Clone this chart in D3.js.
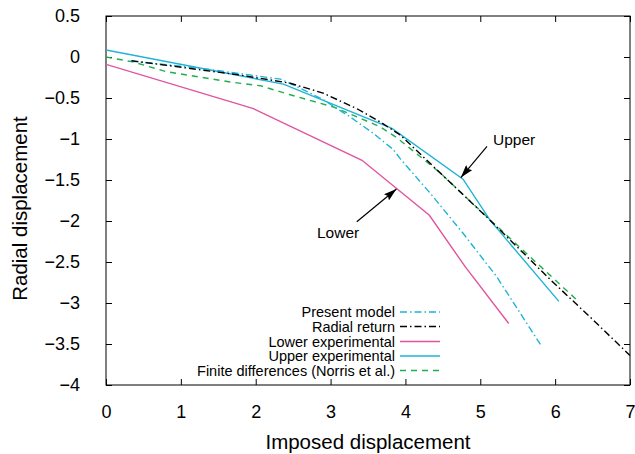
<!DOCTYPE html>
<html>
<head>
<meta charset="utf-8">
<script src="https://cdn.jsdelivr.net/npm/d3@7"></script>
<style>
  html, body { margin: 0; padding: 0; background: #fff; }
  svg { display: block; font-family: "Liberation Sans", Arial, Helvetica, sans-serif; }
</style>
</head>
<body>
<svg id="chart" width="635" height="454"></svg>
<script>
// ---------- data ----------
const xTicks = [0, 1, 2, 3, 4, 5, 6, 7];
const yTicks = [0.5, 0, -0.5, -1, -1.5, -2, -2.5, -3, -3.5, -4];

const presentModel = [
  [0.33, -0.05], [1.2, -0.13], [2.33, -0.27], [2.55, -0.36], [2.90, -0.52],
  [3.26, -0.73], [3.57, -0.93], [3.84, -1.13], [3.93, -1.24], [4.33, -1.66],
  [4.77, -2.15], [5.22, -2.68], [5.82, -3.53]
];
const radialReturn = [
  [0.34, -0.045], [1.79, -0.22], [2.46, -0.32], [2.90, -0.44], [3.35, -0.63],
  [3.66, -0.79], [3.93, -0.95], [4.46, -1.41], [5.13, -1.99], [5.93, -2.71],
  [6.50, -3.20], [7.00, -3.64]
];
const lowerExperimental = [
  [0, -0.09], [1.97, -0.63], [3.42, -1.26], [4.32, -1.93], [4.80, -2.56], [5.38, -3.25]
];
const upperExperimental = [
  [0, 0.085], [2.37, -0.33], [3.82, -0.87], [4.77, -1.49], [5.13, -1.99], [6.05, -2.98]
];
const finiteDifferences = [
  [0, 0.0], [0.36, -0.06], [0.81, -0.18], [1.70, -0.31], [2.06, -0.35], [2.46, -0.46],
  [3.04, -0.61], [3.66, -0.85], [3.88, -0.98], [4.46, -1.41], [5.17, -2.02],
  [5.93, -2.66], [6.31, -2.98]
];

const seriesNames = ["Present model", "Radial return", "Lower experimental",
                     "Upper experimental", "Finite differences (Norris et al.)"];
const seriesData = [presentModel, radialReturn, lowerExperimental, upperExperimental, finiteDifferences];
const seriesColors = ["#1fb3d6", "#000000", "#e0559f", "#1fb3d6", "#1fae4e"];
const seriesDash = ["7,3,1.5,3", "7,3,1.5,3", null, null, "6,5"];

const annotations = [
  { text: "Upper", tx: 493, ty: 145, from: [5.09, -1.09], to: [4.74, -1.47] },
  { text: "Lower", tx: 317, ty: 238, from: [3.35, -2.01], to: [3.88, -1.61] }
];

// ---------- layout ----------
const svg = d3.select("#chart");
const x = d3.scaleLinear().domain([0, 7]).range([106, 630]);
const y = d3.scaleLinear().domain([-4, 0.5]).range([385, 16]);

const tickFmt = d3.format("~g");

// frame
svg.append("rect")
  .attr("x", x(0)).attr("y", y(0.5))
  .attr("width", x(7) - x(0)).attr("height", y(-4) - y(0.5))
  .attr("fill", "none").attr("stroke", "#000").attr("stroke-width", 1);

function styleAxis(g, fontSize) {
  g.select(".domain").remove();
  g.selectAll(".tick line").attr("stroke", "#000").attr("stroke-width", 1);
  g.selectAll(".tick text").attr("fill", "#000").style("font-size", fontSize + "px")
    .style("font-family", '"Liberation Sans", Arial, Helvetica, sans-serif');
}

// bottom axis
svg.append("g").attr("transform", `translate(0,${y(-4)})`)
  .call(d3.axisBottom(x).tickValues(xTicks).tickFormat(tickFmt).tickSizeInner(-6).tickSizeOuter(0).tickPadding(20))
  .call(g => styleAxis(g, 18));
// top mirror ticks
svg.append("g").attr("transform", `translate(0,${y(0.5)})`)
  .call(d3.axisTop(x).tickValues(xTicks).tickFormat("").tickSizeInner(-6).tickSizeOuter(0))
  .call(g => styleAxis(g, 18));
// left axis
svg.append("g").attr("transform", `translate(${x(0)},0)`)
  .call(d3.axisLeft(y).tickValues(yTicks).tickFormat(tickFmt).tickSizeInner(-6).tickSizeOuter(0).tickPadding(26))
  .call(g => styleAxis(g, 18));
// right mirror ticks
svg.append("g").attr("transform", `translate(${x(7)},0)`)
  .call(d3.axisRight(y).tickValues(yTicks).tickFormat("").tickSizeInner(-6).tickSizeOuter(0))
  .call(g => styleAxis(g, 18));

// axis titles
svg.append("text")
  .attr("x", (x(0) + x(7)) / 2).attr("y", 449)
  .attr("text-anchor", "middle").style("font-size", "20.5px").attr("fill", "#000")
  .text("Imposed displacement");
svg.append("text")
  .attr("transform", `translate(27,${(y(0.5) + y(-4)) / 2 + 8}) rotate(-90)`)
  .attr("text-anchor", "middle").style("font-size", "20.5px").attr("fill", "#000")
  .text("Radial displacement");

// series lines
const line = d3.line().x(d => x(d[0])).y(d => y(d[1]));
svg.append("clipPath").attr("id", "plotclip").append("rect")
  .attr("x", x(0)).attr("y", y(0.5)).attr("width", x(7) - x(0)).attr("height", y(-4) - y(0.5));

const drawOrder = [4, 2, 3, 0, 1];
drawOrder.forEach(i => {
  svg.append("path")
    .datum(seriesData[i])
    .attr("d", line)
    .attr("fill", "none")
    .attr("stroke", seriesColors[i])
    .attr("stroke-width", 1.4)
    .attr("stroke-dasharray", seriesDash[i])
    .attr("clip-path", "url(#plotclip)");
});

// legend
const legendRows = [312, 326.5, 341.5, 356, 370.5];
seriesNames.forEach((name, i) => {
  svg.append("text")
    .attr("x", 395).attr("y", legendRows[i] + 5)
    .attr("text-anchor", "end").style("font-size", "14.5px").attr("fill", "#000")
    .text(name);
  svg.append("line")
    .attr("x1", 400).attr("x2", 440)
    .attr("y1", legendRows[i]).attr("y2", legendRows[i])
    .attr("stroke", seriesColors[i]).attr("stroke-width", 1.4)
    .attr("stroke-dasharray", seriesDash[i]);
});

// annotations with arrows
const defs = svg.append("defs");
defs.append("marker")
  .attr("id", "arrowhead").attr("viewBox", "0 0 13 8")
  .attr("refX", 13).attr("refY", 4)
  .attr("markerWidth", 13).attr("markerHeight", 8)
  .attr("markerUnits", "userSpaceOnUse")
  .attr("orient", "auto")
  .append("path").attr("d", "M0,0 L13,4 L0,8 L2,4 Z").attr("fill", "#000");

annotations.forEach(a => {
  svg.append("text")
    .attr("x", a.tx).attr("y", a.ty)
    .style("font-size", "15.5px").attr("fill", "#000")
    .text(a.text);
  svg.append("line")
    .attr("x1", x(a.from[0])).attr("y1", y(a.from[1]))
    .attr("x2", x(a.to[0])).attr("y2", y(a.to[1]))
    .attr("stroke", "#000").attr("stroke-width", 1.2)
    .attr("marker-end", "url(#arrowhead)");
});
</script>
</body>
</html>
